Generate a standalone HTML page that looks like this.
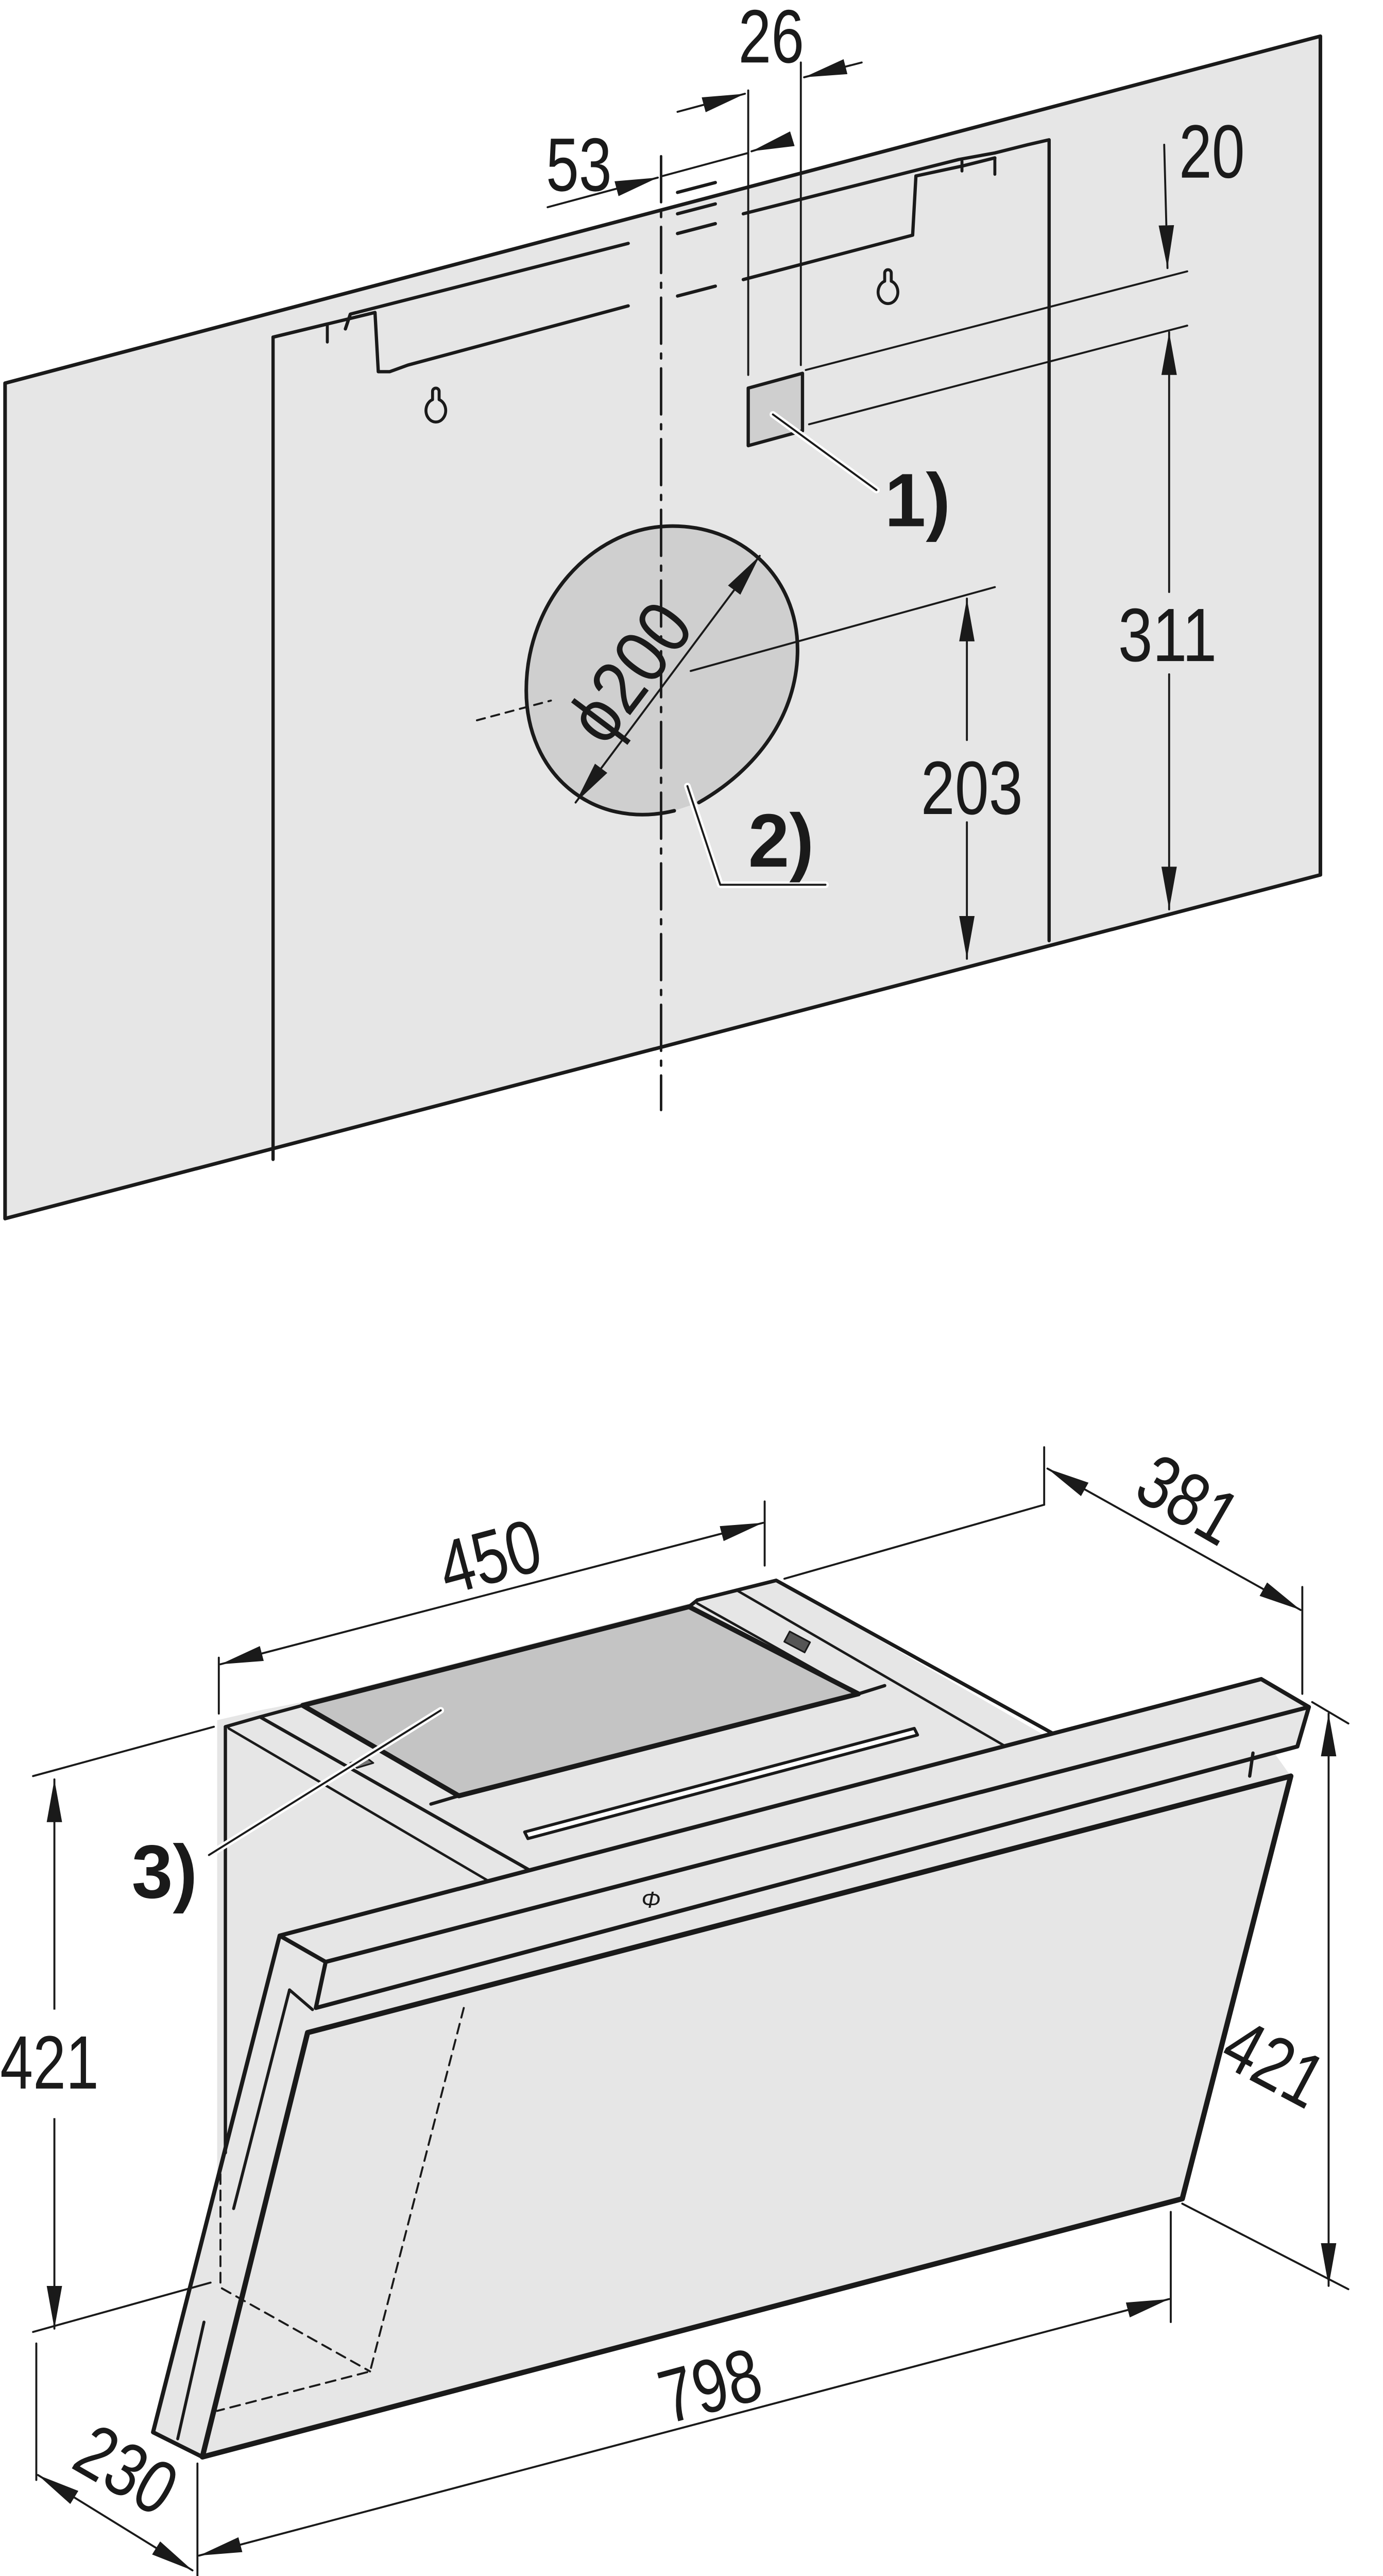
<!DOCTYPE html>
<html><head><meta charset="utf-8"><style>
html,body{margin:0;padding:0;background:#fff;overflow:hidden}
svg{display:block}
text{font-family:"Liberation Sans",sans-serif;fill:#1a1a1a}
</style></head><body>
<svg width="2685" height="5120" viewBox="0 0 841 1604" xmlns="http://www.w3.org/2000/svg">
<defs>
<marker id="b" viewBox="0 0 10 10" refX="10" refY="5" markerWidth="26" markerHeight="26" markerUnits="userSpaceOnUse" orient="auto-start-reverse"><path d="M0,3.2 L10,5 L0,6.8z" fill="#1a1a1a"/></marker>
</defs>
<g stroke="#1a1a1a" stroke-linecap="round" stroke-linejoin="round">
<!-- TOP WALL -->
<polygon points="3,233 803,22 803,532 3,741" fill="#e6e6e6" stroke-width="2.2"/>
<polyline points="166,705 166,205 199,197" fill="none" stroke-width="2"/>
<polyline points="166,205 228,190 230,226 237,226 248,222 382,186" fill="none" stroke-width="2"/>
<line x1="199" y1="197" x2="199" y2="208" stroke-width="1.8"/>
<polyline points="210,200 213,191 382,148" fill="none" stroke-width="2"/>
<polyline points="412,142 435,136" fill="none" stroke-width="2"/>
<polyline points="412,180 435,174" fill="none" stroke-width="2"/>
<polyline points="452,170 555,143 557,107 585,101 605,96" fill="none" stroke-width="2"/>
<polyline points="452,130 583,97 605,93 625,88 638,85 638,572" fill="none" stroke-width="2"/>
<line x1="605" y1="96" x2="605" y2="106" stroke-width="1.8"/>
<line x1="585" y1="98" x2="585" y2="104" stroke-width="1.8"/>
<polyline points="412,130 435,124" fill="none" stroke-width="2"/>
<polyline points="412,117 435,111" fill="none" stroke-width="2"/>
<!-- keyholes -->
<path d="M263,238 v5 a6,7 0 1 0 4,0 v-5 a2,2 0 0 0 -4,0z" fill="none" stroke-width="1.8"/>
<path d="M538,166 v5 a6,7 0 1 0 4,0 v-5 a2,2 0 0 0 -4,0z" fill="none" stroke-width="1.8"/>
<!-- circle -->
<path d="M410,493 C360,505 320,470 320,420 C320,365 360,322 405,320 C450,318 485,350 485,395 C485,435 460,468 425,488" fill="#cfcfcf" stroke-width="2.2"/>
<!-- centerline -->
<line x1="402" y1="95" x2="402" y2="675" stroke-width="1.5" stroke-dasharray="28,6,3,6"/>
<line x1="290" y1="438" x2="335" y2="426" stroke-width="1.2" stroke-dasharray="5,4"/>
<line x1="420" y1="408" x2="605" y2="357" stroke-width="1.2"/>
<!-- dims top -->
<line x1="455" y1="55" x2="455" y2="228" stroke-width="1.2"/>
<line x1="487" y1="38" x2="487" y2="222" stroke-width="1.2"/>
<line x1="412" y1="68" x2="453" y2="57" stroke-width="1.2" marker-end="url(#b)"/>
<line x1="524" y1="38" x2="489" y2="47" stroke-width="1.2" marker-end="url(#b)"/>
<line x1="455" y1="93" x2="403" y2="107" stroke-width="1.2"/>
<line x1="333" y1="126" x2="400" y2="108" stroke-width="1.2" marker-end="url(#b)"/>
<line x1="470" y1="88" x2="457" y2="92" stroke-width="1.2" marker-end="url(#b)"/>
<polygon points="455,236 488,227 488,262 455,271" fill="#cfcfcf" stroke-width="2"/>
<line x1="490" y1="225" x2="722" y2="165" stroke-width="1.2"/>
<line x1="492" y1="258" x2="722" y2="198" stroke-width="1.2"/>
<line x1="708" y1="88" x2="710" y2="163" stroke-width="1.2" marker-end="url(#b)"/>
<line x1="711" y1="360" x2="711" y2="202" stroke-width="1.2" marker-end="url(#b)"/>
<line x1="711" y1="410" x2="711" y2="553" stroke-width="1.2" marker-end="url(#b)"/>
<line x1="588" y1="450" x2="588" y2="364" stroke-width="1.2" marker-end="url(#b)"/>
<line x1="588" y1="500" x2="588" y2="583" stroke-width="1.2" marker-end="url(#b)"/>
<line x1="350" y1="488" x2="462" y2="338" stroke-width="1.2" marker-start="url(#b)" marker-end="url(#b)"/>
<polyline points="470,252 533,298" fill="none" stroke="#fff" stroke-width="4"/>
<polyline points="470,252 533,298" fill="none" stroke-width="1.2"/>
<polyline points="418,478 438,538 502,538" fill="none" stroke="#fff" stroke-width="4"/>
<polyline points="418,478 438,538 502,538" fill="none" stroke-width="1.2"/>
</g>
<g font-size="46">
<text x="449" y="38" textLength="40" lengthAdjust="spacingAndGlyphs">26</text>
<text x="332" y="116" textLength="40" lengthAdjust="spacingAndGlyphs">53</text>
<text x="717" y="108" textLength="40" lengthAdjust="spacingAndGlyphs">20</text>
<text x="680" y="402" textLength="60" lengthAdjust="spacingAndGlyphs">311</text>
<text x="560" y="495" textLength="62" lengthAdjust="spacingAndGlyphs">203</text>
<text x="0" y="0" transform="translate(368,455) rotate(-53)" textLength="92" lengthAdjust="spacingAndGlyphs">ϕ200</text>
<text x="538" y="320" font-weight="bold" textLength="40" lengthAdjust="spacingAndGlyphs">1)</text>
<text x="455" y="527" font-weight="bold" textLength="40" lengthAdjust="spacingAndGlyphs">2)</text>
</g>

<!-- BOTTOM HOOD -->
<g stroke="#1a1a1a" stroke-linecap="round" stroke-linejoin="round">
<polygon points="132,1046 158,1040 184,1035 419,975 472,961 640,1058 767,1021 796,1038 789,1062 775,1066 785,1080 719,1337 123,1494 105,1485 93,1479 132,1325" fill="#e6e6e6" stroke="none"/>
<line x1="137" y1="1050" x2="137" y2="1309" stroke-width="2"/>
<polyline points="137,1050 158,1044 184,1037" fill="none" stroke-width="2"/>
<line x1="158" y1="1044" x2="334" y2="1144" stroke-width="2"/>
<line x1="139" y1="1051" x2="311" y2="1152" stroke-width="1.5"/>
<polyline points="311,1152 334,1144 640,1064" fill="none" stroke-width="2"/>
<polygon points="184,1037 419,977 522,1030 279,1092" fill="#c4c4c4" stroke-width="3"/>
<polyline points="419,977 424,973 448,967 472,961 651,1060 637,1065" fill="none" stroke-width="2.2"/>
<line x1="448" y1="967" x2="622" y2="1068" stroke-width="1.5"/>
<line x1="424" y1="975" x2="522" y2="1030" stroke-width="1.5"/>
<line x1="279" y1="1092" x2="262" y2="1097" stroke-width="2"/>
<line x1="522" y1="1030" x2="538" y2="1025" stroke-width="2"/>
<line x1="637" y1="1058" x2="767" y2="1021" stroke-width="2.2"/>
<path d="M319,1114 L556,1051 L558,1055 L321,1118z" fill="#fff" stroke-width="1.8"/>
<rect x="478" y="995" width="14" height="7" fill="#555" stroke-width="1" transform="rotate(28 485 998)"/>
<path d="M213,1072 l10,-3 l4,3 l-10,3z" fill="#777" stroke-width="1"/>
<polygon points="170,1177 767,1021 796,1038 198,1193" fill="#e6e6e6" stroke-width="2.5"/>
<polygon points="198,1193 796,1038 789,1062 192,1221" fill="#e6e6e6" stroke-width="2.5"/>
<line x1="762" y1="1066" x2="760" y2="1080" stroke-width="2"/>
<polyline points="170,1177 93,1479 105,1485 123,1494" fill="none" stroke-width="2.5"/>
<line x1="176" y1="1210" x2="142" y2="1343" stroke-width="1.8"/>
<line x1="124" y1="1412" x2="108" y2="1483" stroke-width="1.8"/>
<polyline points="176,1210 190,1222" fill="none" stroke-width="1.8"/>
<polygon points="187,1236 785,1080 719,1337 123,1494" fill="#e6e6e6" stroke-width="3.2"/>
<g fill="none" stroke-width="1.2" stroke-dasharray="6,4">
<polyline points="282,1221 225,1442 132,1466"/>
<polyline points="134,1322 134,1391 225,1442"/>
</g>
<g stroke-width="1.2" fill="none">
<line x1="133" y1="1008" x2="133" y2="1042"/>
<line x1="465" y1="913" x2="465" y2="952"/>
<line x1="134" y1="1012" x2="464" y2="926" marker-start="url(#b)" marker-end="url(#b)"/>
<line x1="477" y1="960" x2="635" y2="915"/>
<line x1="635" y1="880" x2="635" y2="915"/>
<line x1="637" y1="893" x2="791" y2="979" marker-start="url(#b)" marker-end="url(#b)"/>
<line x1="792" y1="965" x2="792" y2="1030"/>
<line x1="798" y1="1035" x2="820" y2="1048"/>
<line x1="808" y1="1042" x2="808" y2="1390" marker-start="url(#b)" marker-end="url(#b)"/>
<line x1="719" y1="1340" x2="820" y2="1392"/>
<line x1="20" y1="1080" x2="130" y2="1050"/>
<line x1="20" y1="1418" x2="128" y2="1388"/>
<line x1="33" y1="1082" x2="33" y2="1416" marker-start="url(#b)" marker-end="url(#b)"/>
<line x1="712" y1="1345" x2="712" y2="1412"/>
<line x1="120" y1="1498" x2="120" y2="1568"/>
<line x1="121" y1="1554" x2="711" y2="1398" marker-start="url(#b)" marker-end="url(#b)"/>
<line x1="22" y1="1425" x2="22" y2="1508"/>
<line x1="23" y1="1505" x2="117" y2="1563" marker-start="url(#b)" marker-end="url(#b)"/>
</g>
<line x1="127" y1="1128" x2="268" y2="1040" stroke="#fff" stroke-width="4"/>
<line x1="127" y1="1128" x2="268" y2="1040" stroke-width="1.2"/>
</g>
<rect x="18" y="1222" width="30" height="66" fill="#fff"/>
<g font-size="46">
<text x="0" y="0" transform="translate(272,970) rotate(-15)" textLength="62" lengthAdjust="spacingAndGlyphs">450</text>
<text x="0" y="0" transform="translate(688,910) rotate(30)" textLength="62" lengthAdjust="spacingAndGlyphs">381</text>
<text x="0" y="0" transform="translate(740,1254) rotate(28)" textLength="62" lengthAdjust="spacingAndGlyphs">421</text>
<text x="0" y="1270" textLength="60" lengthAdjust="spacingAndGlyphs">421</text>
<text x="0" y="0" transform="translate(406,1474) rotate(-15)" textLength="62" lengthAdjust="spacingAndGlyphs">798</text>
<text x="0" y="0" transform="translate(42,1500) rotate(30)" textLength="62" lengthAdjust="spacingAndGlyphs">230</text>
<text x="80" y="1154" font-weight="bold" textLength="40" lengthAdjust="spacingAndGlyphs">3)</text>
<text x="390" y="1160" font-size="14" font-style="italic">Φ</text>
</g>
</svg>
</body></html>
